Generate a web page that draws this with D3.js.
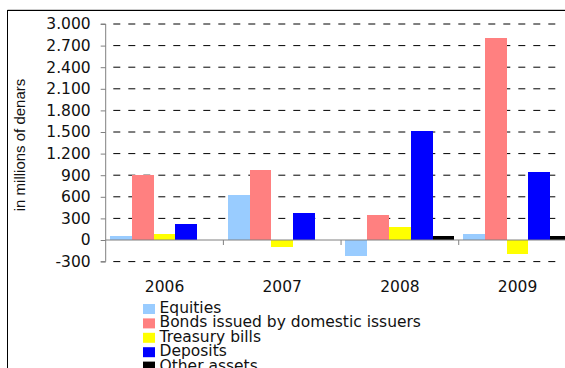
<!DOCTYPE html>
<html><head><meta charset="utf-8">
<script src="https://cdn.jsdelivr.net/npm/d3@7"></script>
<style>body{margin:0;background:#fff}svg{display:block}</style>
</head><body>
<svg id="c" width="565" height="368"></svg>
<script>
const categories = ["2006", "2007", "2008", "2009"];
const seriesNames = ["Equities", "Bonds issued by domestic issuers", "Treasury bills", "Deposits", "Other assets"];
const equities = [50, 620, -220, 80];
const bonds = [900, 970, 345, 2800];
const treasury = [80, -100, 175, -190];
const deposits = [220, 370, 1520, 950];
const otherAssets = [0, 0, 50, 50];
const seriesColors = ["#99CCFF", "#FF8080", "#FFFF00", "#0000FF", "#000000"];
const yTicks = [-300, 0, 300, 600, 900, 1200, 1500, 1800, 2100, 2400, 2700, 3000];
const yTickLabels = ["-300", "0", "300", "600", "900", "1.200", "1.500", "1.800", "2.100", "2.400", "2.700", "3.000"];

const seriesValues = [equities, bonds, treasury, deposits, otherAssets];
const FONT = "DejaVu Sans, Verdana, sans-serif";

const svg = d3.select("#c");
const x0 = 105.7, xEnd = 576.4, yTop = 24, yBot = 261.6;
const x = d3.scaleBand().domain(categories).range([x0, xEnd]).padding(0);
const xs = d3.scaleBand().domain(seriesNames).range([0, x.bandwidth()]).paddingInner(0).paddingOuter(0.2);
const y = d3.scaleLinear().domain([-300, 3000]).range([yBot, yTop]);

// frame
svg.append("line").attr("x1", 7.5).attr("x2", 565).attr("y1", 10.5).attr("y2", 10.5).attr("stroke", "#000");
svg.append("line").attr("x1", 7.5).attr("x2", 565).attr("y1", 9.5).attr("y2", 9.5).attr("stroke", "#ccc");
svg.append("line").attr("x1", 7.5).attr("x2", 7.5).attr("y1", 10).attr("y2", 368).attr("stroke", "#000");

// gridlines
svg.append("g").selectAll("line").data(yTicks.filter(d => d !== 0)).join("line")
  .attr("x1", x0 + 7.6).attr("x2", 560)
  .attr("y1", d => y(d)).attr("y2", d => y(d))
  .attr("stroke", "#000").attr("stroke-dasharray", "7,8");

// bars
const g = svg.append("g").attr("shape-rendering", "crispEdges");
seriesValues.forEach((vals, si) => {
  g.append("g").selectAll("rect").data(vals.map((v, i) => ({v, c: categories[i]}))).join("rect")
    .attr("x", d => x(d.c) + xs(seriesNames[si]))
    .attr("width", xs.bandwidth())
    .attr("y", d => y(Math.max(0, d.v)))
    .attr("height", d => Math.abs(y(d.v) - y(0)))
    .attr("fill", seriesColors[si]);
});

// y axis
const yAxis = d3.axisLeft(y).tickValues(yTicks).tickSize(5).tickPadding(10)
  .tickFormat((d, i) => yTickLabels[i]);
const ya = svg.append("g").attr("transform", `translate(${x0},0)`).call(yAxis);
ya.select(".domain").attr("stroke", "#808080").attr("d", `M-5,${y(3000)}H0V${yBot}H-5`);
ya.selectAll(".tick line").attr("stroke", "#808080");
ya.selectAll("text").attr("font-family", FONT).attr("font-size", 15.5).attr("fill", "#111");

// zero line + x ticks
svg.append("line").attr("x1", x0).attr("x2", 565).attr("y1", y(0)).attr("y2", y(0)).attr("stroke", "#808080");
const xa = d3.axisBottom(x).tickSize(0).tickPadding(0);
const xg = svg.append("g").attr("transform", `translate(0,${y(0)})`).call(xa);
xg.select(".domain").remove();
xg.selectAll("text").attr("y", 51.5).attr("dy", 0).attr("font-family", FONT).attr("font-size", 15.5).attr("fill", "#111");
svg.append("g").selectAll("line").data(categories.slice(1)).join("line")
  .attr("x1", d => x(d)).attr("x2", d => x(d))
  .attr("y1", y(0)).attr("y2", y(0) + 5).attr("stroke", "#808080");

// y label
svg.append("text").attr("transform", "translate(25,145) rotate(-90)")
  .attr("text-anchor", "middle").attr("font-family", "Liberation Sans, Arial, sans-serif")
  .attr("font-size", 15).attr("fill", "#111").text("in millions of denars");

// legend
const lg = svg.append("g").selectAll("g").data(seriesNames).join("g")
  .attr("transform", (d, i) => `translate(143,${304 + i * 14.4})`);
lg.append("rect").attr("width", 12).attr("height", 10).attr("fill", (d, i) => seriesColors[i]);
lg.append("text").attr("x", 16.5).attr("y", 8.9).attr("font-family", FONT)
  .attr("font-size", 15.5).attr("fill", "#111").text(d => d);
</script>
</body></html>
